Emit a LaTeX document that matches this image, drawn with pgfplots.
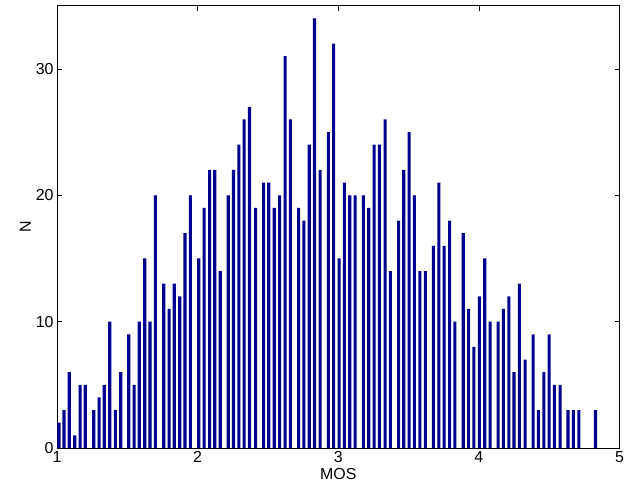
\documentclass[border=0pt]{standalone}
\usepackage{fontspec}
\setmainfont{Liberation Sans}
\usepackage{pgfplots}
\pgfplotsset{compat=1.18}
\definecolor{barblue}{RGB}{0,0,143}

\begin{document}
\begin{tikzpicture}
\begin{axis}[
  at={(0,0)}, anchor=south west,
  width=562.5bp, height=442.3bp, scale only axis,
  xmin=1, xmax=5, ymin=0, ymax=35,
  xtick={1,2,3,4,5}, ytick={0,10,20,30},
  tick align=inside, major tick length=5bp,
  tick style={black, line width=0.5pt},
  axis line style={black, line width=0.8pt},
  /pgf/number format/assume math mode=true,
  ticklabel style={font=\fontsize{16}{18}\selectfont},
  label style={font=\fontsize{16}{18}\selectfont},
  xlabel={MOS}, ylabel={N},
  xlabel style={yshift=1.5bp},
  ylabel style={yshift=-2bp},
]
\addplot[ybar, bar width=0.022, bar shift=0pt, fill=barblue, draw=none] coordinates {
(1.014,2) (1.050,3) (1.087,6) (1.126,1) (1.164,5) (1.201,5)
(1.261,3) (1.299,4) (1.336,5) (1.375,10) (1.415,3) (1.453,6)
(1.510,9) (1.548,5) (1.585,10) (1.624,15) (1.661,10) (1.699,20)
(1.759,13) (1.797,11) (1.834,13) (1.873,12) (1.910,17) (1.948,20)
(2.008,15) (2.046,19) (2.085,22) (2.122,22) (2.161,14)
(2.218,20) (2.255,22) (2.293,24) (2.331,26) (2.369,27) (2.412,19)
(2.469,21) (2.506,21) (2.545,19) (2.583,20) (2.622,31) (2.659,26)
(2.718,19) (2.755,18) (2.794,24) (2.831,34) (2.871,22)
(2.930,25) (2.967,32) (3.006,15) (3.043,21) (3.082,20) (3.120,20)
(3.179,20) (3.217,19) (3.255,24) (3.292,24) (3.333,26) (3.371,14)
(3.429,18) (3.466,22) (3.504,25) (3.541,20) (3.580,14) (3.619,14)
(3.676,16) (3.715,21) (3.753,16) (3.792,18) (3.829,10)
(3.889,17) (3.927,11) (3.964,8) (4.004,12) (4.042,15) (4.080,10)
(4.137,10) (4.174,11) (4.213,12) (4.250,6) (4.288,13) (4.329,7)
(4.386,9) (4.423,3) (4.462,6) (4.499,9) (4.537,5) (4.578,5)
(4.634,3) (4.672,3) (4.711,3) (4.829,3)
};
\end{axis}
\pgfresetboundingbox
\path[use as bounding box] (-57bp,-44bp) rectangle (569bp,448bp);
\end{tikzpicture}
\end{document}
